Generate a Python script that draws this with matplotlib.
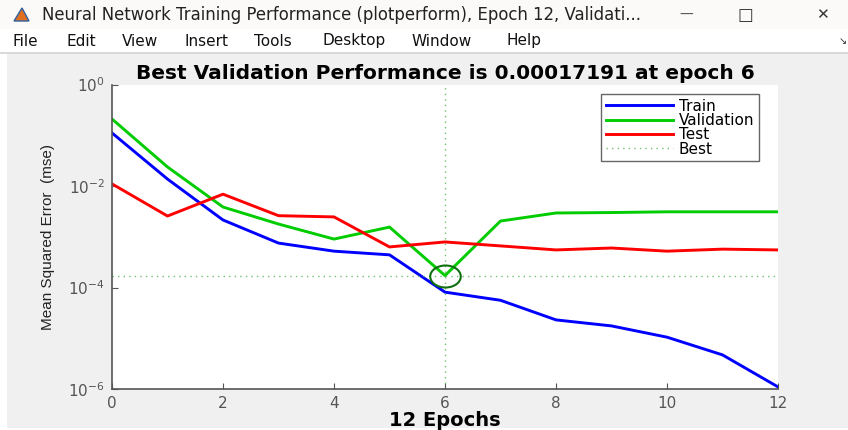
import matplotlib.pyplot as plt
from matplotlib.patches import Rectangle, Polygon
from matplotlib.path import Path
from matplotlib.transforms import Affine2D

epochs = list(range(13))
train = [0.111, 0.0137, 0.00214, 7.5e-4, 5.2e-4, 4.4e-4, 8.1e-5,
         5.6e-5, 2.3e-5, 1.75e-5, 1.05e-5, 4.7e-6, 1.1e-6]
validation = [0.209, 0.0237, 0.00385, 0.00178, 9.0e-4, 0.00155, 0.00017191,
              0.00204, 0.00294, 0.0030, 0.0031, 0.0031, 0.0031]
test = [0.011, 0.00256, 0.0069, 0.0026, 0.00246, 6.3e-4, 7.9e-4,
        6.6e-4, 5.5e-4, 6.0e-4, 5.2e-4, 5.7e-4, 5.5e-4]
best_epoch = 6
best_perf = 0.00017191

W, H = 848, 430
fig = plt.figure(figsize=(W / 100, H / 100), dpi=100)
fig.patch.set_facecolor('white')

def box(x0, y0, x1, y1, color):
    # pixel coords, y measured from top
    fig.patches.append(Rectangle((x0 / W, 1 - y1 / H), (x1 - x0) / W, (y1 - y0) / H,
                                 transform=fig.transFigure, facecolor=color,
                                 edgecolor='none', zorder=-5))

# window chrome
box(0, 0, W, 29, '#fbfaf8')
box(0, 29, W, 52, 'white')
box(0, 52, W, 53.5, '#d9d9d9')
box(7, 53.5, W, 428, '#f0f0f0')
fig.patches.append(Polygon([(14 / W, 1 - 21 / H), (22 / W, 1 - 8 / H), (29 / W, 1 - 21 / H)],
                           closed=True, transform=fig.transFigure,
                           facecolor='#e07020', edgecolor='#3060a0', lw=1))

fig.text(42 / W, 1 - 15 / H,
         'Neural Network Training Performance (plotperform), Epoch 12, Validati...',
         fontsize=11.9, family='DejaVu Sans', color='#222222', va='center')
fig.text(686 / W, 1 - 15 / H, '\u2014', fontsize=10, color='#555555', ha='center', va='center')
fig.text(745 / W, 1 - 15 / H, '\u25a1', fontsize=12, color='#333333', ha='center', va='center')
fig.text(822 / W, 1 - 15 / H, '\u2715', fontsize=11, color='#333333', ha='center', va='center')

menu = ['File', 'Edit', 'View', 'Insert', 'Tools', 'Desktop', 'Window', 'Help']
menu_x = [12, 66, 122, 185, 254, 322, 412, 507]
for name, mx in zip(menu, menu_x):
    fig.text(mx / W, 1 - 41 / H, name, fontsize=11, family='DejaVu Sans',
             color='#111111', va='center')
fig.text(843 / W, 1 - 41 / H, '\u2198', fontsize=7, color='#333333', ha='center', va='center')

# plot area
ax = fig.add_axes([112 / W, 1 - 389 / H, 666 / W, 304.5 / H])
ax.set_facecolor('white')

ax.plot(epochs, train, color='#0000ff', lw=2.1, label='Train')
ax.plot(epochs, validation, color='#00cc00', lw=2.1, label='Validation')
ax.plot(epochs, test, color='#ff0000', lw=2.1, label='Test')
ax.axhline(best_perf, color='#70c070', lw=1, ls=(0, (1, 3)), label='Best')
ax.axvline(best_epoch, color='#70c070', lw=1, ls=(0, (1, 3)))

oval = Path.unit_circle().transformed(Affine2D().scale(1, 0.72))
ax.plot([best_epoch], [best_perf], marker=oval, markersize=22, mfc='none',
        mec='#107010', mew=1.5, ls='none')

ax.set_yscale('log')
ax.set_ylim(1e-6, 1)
ax.set_xlim(0, 12)
ax.set_yticks([1e-6, 1e-4, 1e-2, 1])
ax.set_xticks([0, 2, 4, 6, 8, 10, 12])
ax.minorticks_off()

for side in ['top', 'right']:
    ax.spines[side].set_visible(False)
for side in ['left', 'bottom']:
    ax.spines[side].set_color('#555555')
    ax.spines[side].set_linewidth(1.2)
ax.tick_params(direction='in', length=4, color='#555555', labelcolor='#555555',
               labelsize=11, pad=5)

ax.set_title('Best Validation Performance is 0.00017191 at epoch 6',
             fontsize=14.5, fontweight='bold', family='DejaVu Sans', pad=4)
ax.set_xlabel('12 Epochs', fontsize=14, fontweight='bold', family='DejaVu Sans',
              labelpad=0)
ax.set_ylabel('Mean Squared Error  (mse)', fontsize=11, color='#222222',
              family='Liberation Sans', labelpad=10)

leg = ax.legend(loc='upper right', bbox_to_anchor=(0.971, 0.968), fontsize=11,
                fancybox=False, edgecolor='#666666', framealpha=1,
                handlelength=4.4, handletextpad=0.35, labelspacing=-0.05,
                borderpad=0.3, borderaxespad=0)
leg.get_frame().set_linewidth(1)

fig.savefig('out.png', dpi=100)
